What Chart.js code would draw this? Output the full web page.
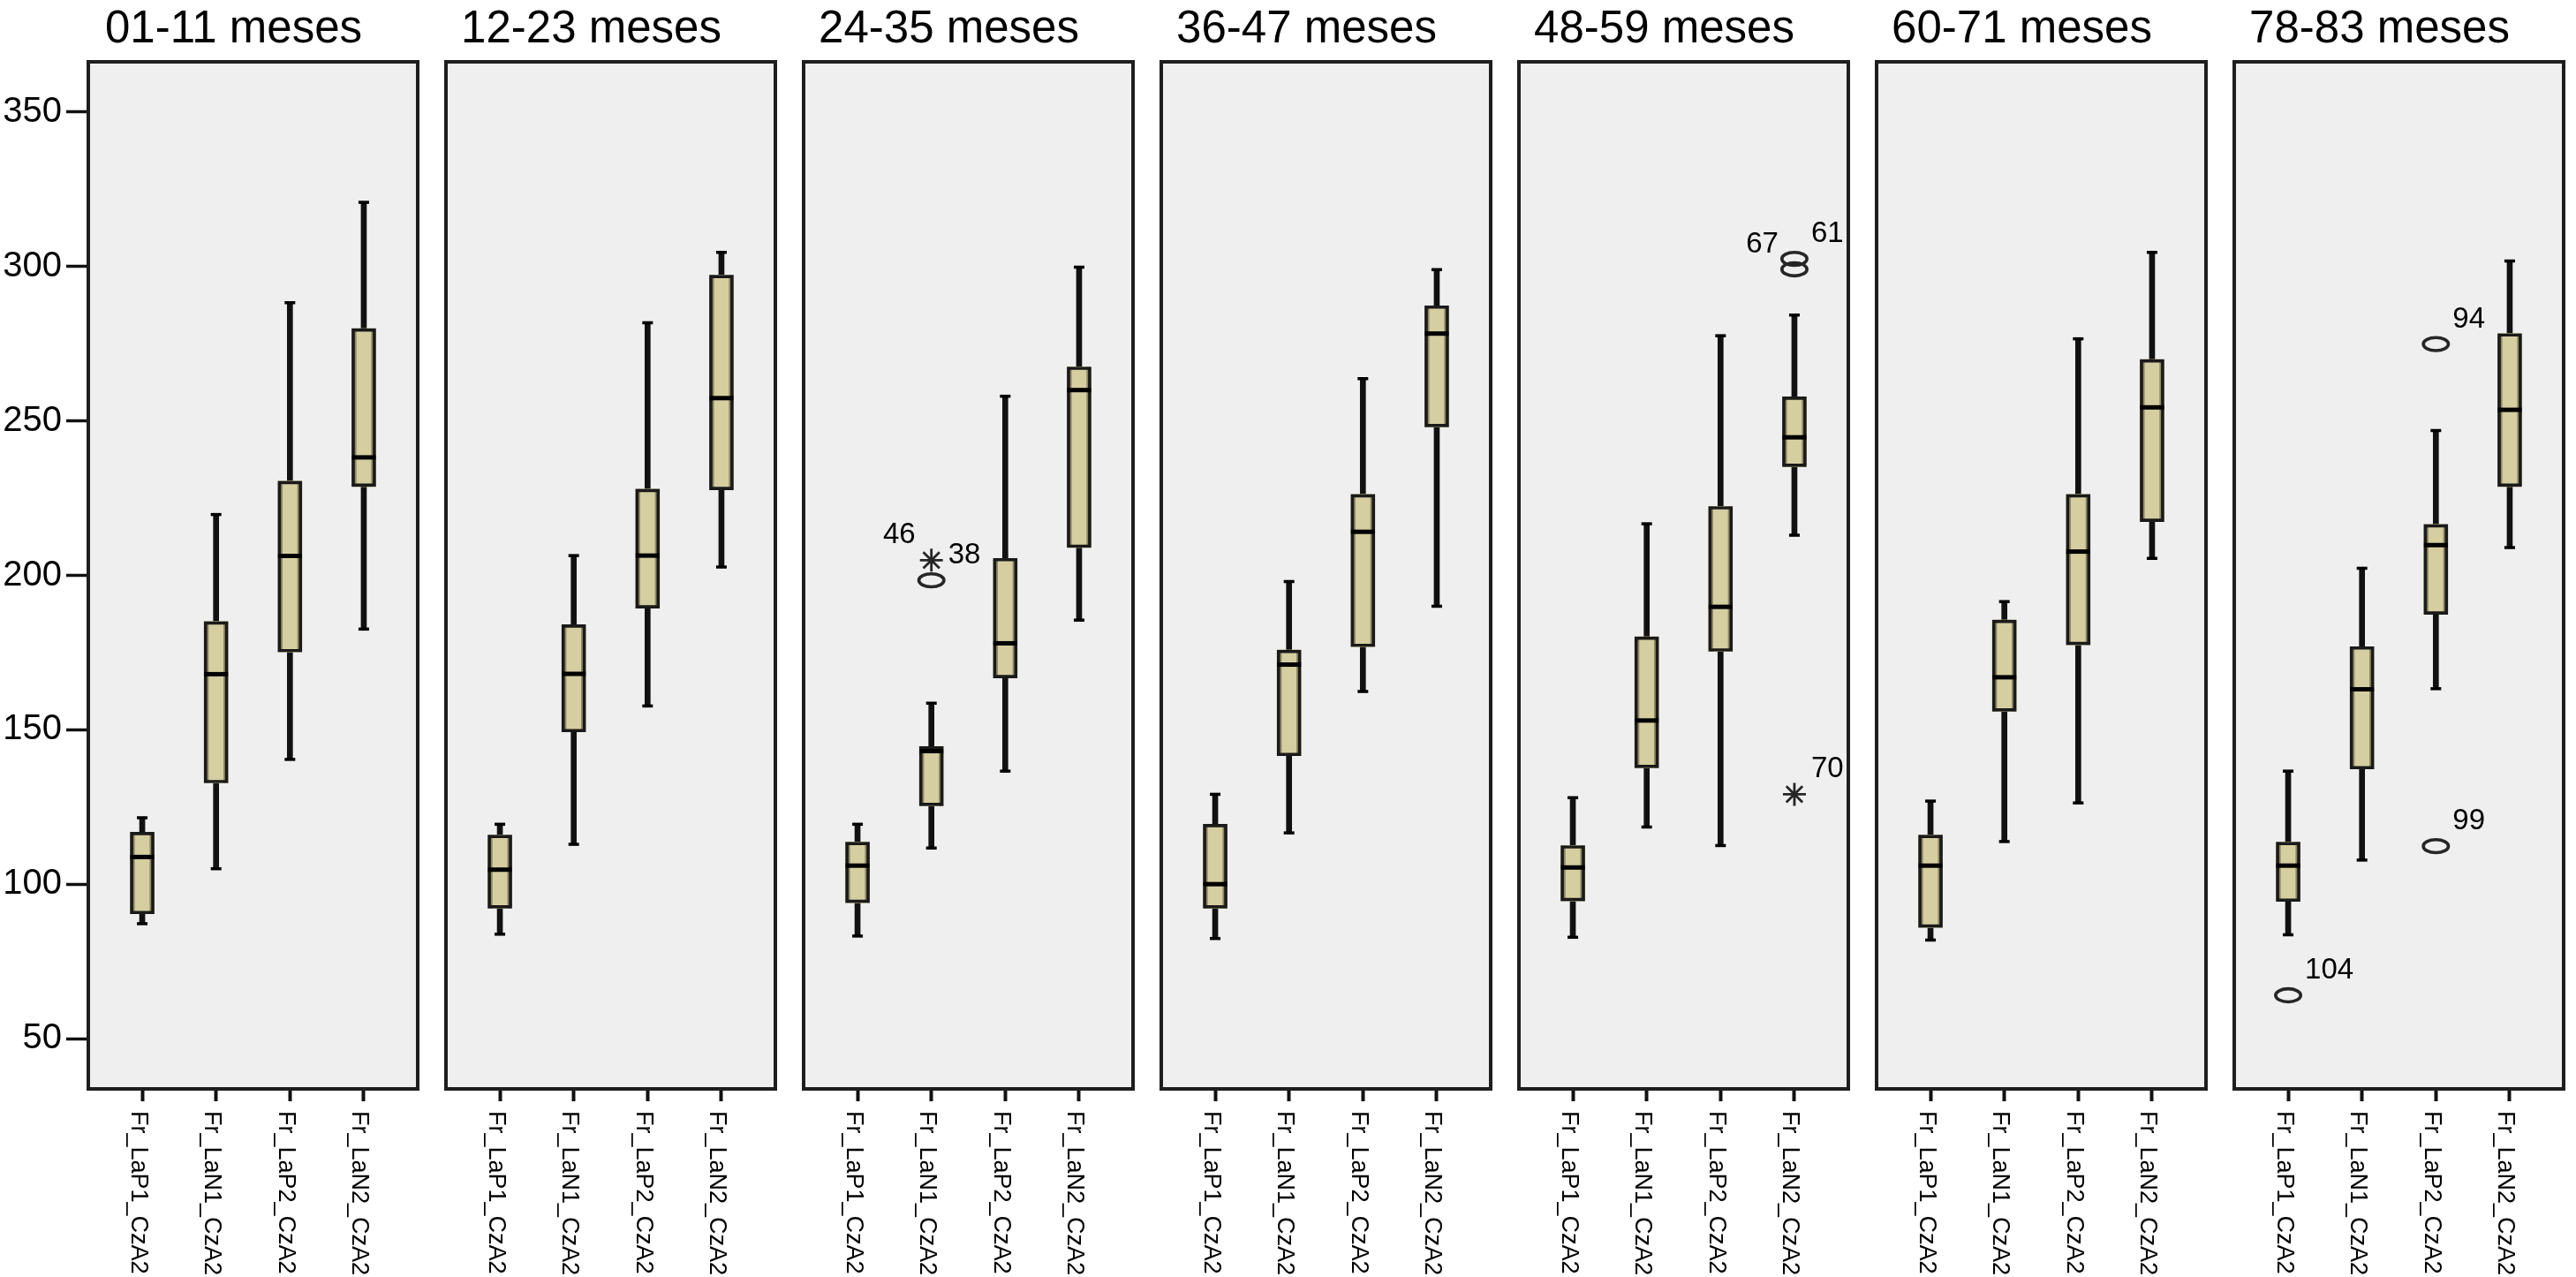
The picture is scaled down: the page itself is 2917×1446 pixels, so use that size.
<!DOCTYPE html>
<html>
<head>
<meta charset="utf-8">
<script src="https://cdn.jsdelivr.net/npm/chart.js@4.4.1/dist/chart.umd.min.js"></script>
<style>
  html, body { margin: 0; padding: 0; background: #fff; width: 2917px; height: 1446px; overflow: hidden; }
  canvas { position: absolute; top: 0; }
</style>
</head>
<body>
<script>
// --- data ---
const panelTitles = ['01-11 meses', '12-23 meses', '24-35 meses', '36-47 meses', '48-59 meses', '60-71 meses', '78-83 meses'];
const categories = ['Fr_LaP1_CzA2', 'Fr_LaN1_CzA2', 'Fr_LaP2_CzA2', 'Fr_LaN2_CzA2'];
const yTicks = [50, 100, 150, 200, 250, 300, 350];

// one row per panel, one value per category
const whiskerLow = [
  [87.2, 105.0, 140.4, 182.6],
  [83.8, 112.9, 157.7, 202.7],
  [83.2, 111.7, 136.6, 185.5],
  [82.4, 116.6, 162.4, 190.0],
  [82.8, 118.5, 112.5, 213.0],
  [81.9, 113.8, 126.3, 205.5],
  [83.6, 107.8, 163.3, 209.0]
];
const q1 = [
  [90.4, 132.8, 175.2, 228.8],
  [92.2, 149.3, 189.4, 227.7],
  [94.0, 125.4, 166.8, 209.0],
  [92.2, 141.6, 176.9, 248.1],
  [94.6, 137.7, 175.4, 235.2],
  [86.0, 156.0, 177.5, 217.4],
  [94.4, 137.3, 187.4, 228.8]
];
const median = [
  [108.8, 168.0, 206.3, 238.2],
  [104.7, 168.1, 206.4, 257.4],
  [106.0, 143.1, 178.0, 260.0],
  [100.0, 171.1, 214.1, 278.3],
  [105.4, 153.0, 189.8, 244.7],
  [106.0, 167.0, 207.7, 254.4],
  [106.0, 163.1, 209.8, 253.6]
];
const q3 = [
  [116.8, 185.0, 230.5, 279.9],
  [115.9, 184.0, 227.9, 297.2],
  [113.6, 144.6, 205.5, 267.5],
  [119.4, 175.8, 226.2, 287.3],
  [112.5, 180.1, 222.3, 257.8],
  [115.9, 185.5, 226.2, 269.9],
  [113.6, 176.9, 216.5, 278.3]
];
const whiskerHigh = [
  [121.5, 219.7, 288.3, 320.8],
  [119.4, 206.4, 281.8, 304.6],
  [119.4, 158.6, 258.0, 299.8],
  [129.1, 198.0, 263.7, 299.0],
  [128.0, 216.7, 277.6, 284.3],
  [126.9, 191.5, 276.6, 304.6],
  [136.6, 202.3, 246.9, 301.8]
];

// outliers: panel index, category index, value, case number, marker (o / *)
const outlierPanel = [2, 2, 4, 4, 4, 6, 6, 6];
const outlierCat = [1, 1, 3, 3, 3, 0, 2, 2];
const outlierValue = [204.9, 198.4, 302.5, 299.1, 129.1, 64.0, 274.9, 112.3];
const outlierCase = ['46', '38', '61', '67', '70', '104', '94', '99'];
const outlierMark = ['*', 'o', 'o', 'o', '*', 'o', 'o', 'o'];

// --- layout / style ---
const FONT = '"Liberation Sans", Arial, Helvetica, sans-serif';
const PANEL_W = 373, FIRST_LEFT = 100, PITCH = 405, TOP = 70, H = 1446, X_AXIS_H = 213;
const Y_MIN = 33.7, Y_MAX = 366.3;
const leftLabelCases = ['46', '67']; // case labels SPSS put on the left side

Chart.defaults.font.family = FONT;
Chart.defaults.color = '#000';

const panelFrame = {
  id: 'panelFrame',
  beforeDraw(chart) {
    const a = chart.chartArea, ctx = chart.ctx;
    ctx.save();
    ctx.fillStyle = '#efefef';
    ctx.fillRect(a.left, a.top, a.right - a.left, a.bottom - a.top);
    ctx.restore();
  },
  afterDatasetsDraw(chart) {
    const a = chart.chartArea, ctx = chart.ctx;
    ctx.save();
    ctx.strokeStyle = '#1e1e1e';
    ctx.lineWidth = 4;
    ctx.strokeRect(a.left, a.top, a.right - a.left, a.bottom - a.top);
    ctx.restore();
  }
};

const panelTitle = {
  id: 'panelTitle',
  afterDraw(chart, args, opts) {
    const a = chart.chartArea, ctx = chart.ctx;
    ctx.save();
    ctx.font = '51px ' + FONT;
    ctx.fillStyle = '#000';
    ctx.textAlign = 'center';
    ctx.textBaseline = 'alphabetic';
    ctx.fillText(opts.text, (a.left + a.right) / 2 - 22, 48);
    ctx.restore();
  }
};

// category labels read top-to-bottom under each tick
const rotatedLabels = {
  id: 'rotatedLabels',
  afterDraw(chart) {
    const xs = chart.scales.x, ctx = chart.ctx;
    ctx.save();
    ctx.font = '27px ' + FONT;
    ctx.fillStyle = '#000';
    ctx.textAlign = 'left';
    ctx.textBaseline = 'middle';
    categories.forEach((label, i) => {
      ctx.save();
      ctx.translate(xs.getPixelForValue(i) - 5, chart.chartArea.bottom + 25);
      ctx.rotate(Math.PI / 2);
      ctx.fillText(label, 0, 0);
      ctx.restore();
    });
    ctx.restore();
  }
};

// SPSS "o" markers are flat ellipses, drawn on the scatter elements' positions, plus case numbers
const outlierMarks = {
  id: 'outlierMarks',
  afterDatasetsDraw(chart) {
    const ctx = chart.ctx;
    ctx.save();
    chart.data.datasets.forEach((ds, di) => {
      if (!ds.outliers) return;
      chart.getDatasetMeta(di).data.forEach((pt, j) => {
        const k = ds.data[j].k;
        if (outlierMark[k] === 'o') {
          // flat ring: circle path squashed vertically, stroked after restoring the transform
          ctx.save();
          ctx.translate(pt.x, pt.y);
          ctx.scale(1, 0.52);
          ctx.beginPath();
          ctx.arc(0, 0, 14.2, 0, Math.PI * 2);
          ctx.restore();
          ctx.strokeStyle = '#262626';
          ctx.lineWidth = 3.6;
          ctx.stroke();
        }
        const name = outlierCase[k];
        const left = leftLabelCases.includes(name);
        ctx.font = '33px ' + FONT;
        ctx.fillStyle = '#000';
        ctx.textBaseline = 'alphabetic';
        ctx.textAlign = left ? 'right' : 'left';
        ctx.fillText(name, pt.x + (left ? -18 : 19), pt.y - 19);
      });
    });
    ctx.restore();
  }
};

function buildPanel(p) {
  const first = p === 0;
  const panelLeft = FIRST_LEFT + p * PITCH;
  const canvas = document.createElement('canvas');
  const cw = first ? panelLeft + PANEL_W + 20 : PANEL_W + 40;
  canvas.width = cw;
  canvas.height = H;
  canvas.style.left = (first ? 0 : panelLeft - 20) + 'px';
  canvas.style.width = cw + 'px';
  canvas.style.height = H + 'px';
  document.body.appendChild(canvas);

  const idx = categories.map((_, i) => i);
  const range = (lo, hi) => idx.map(i => ({ x: i, y: [lo[p][i], hi[p][i]] }));
  const pts = (arr) => idx.map(i => ({ x: i, y: arr[p][i] }));
  const outl = (mark) => outlierPanel
    .map((pp, k) => ({ pp, k }))
    .filter(o => o.pp === p && outlierMark[o.k] === mark)
    .map(o => ({ x: outlierCat[o.k], y: outlierValue[o.k], k: o.k }));

  const datasets = [
    { type: 'bar', data: range(whiskerLow, whiskerHigh), backgroundColor: '#111', barThickness: 6, grouped: false, order: 6 },
    { type: 'bar', data: range(q1, q3), backgroundColor: '#8e8865', barThickness: 27, grouped: false, order: 5 },
    { type: 'bar', data: range(q1, q3), backgroundColor: '#d5cea0', barThickness: 16, grouped: false, order: 4 },
    { type: 'bar', data: range(q1, q3), backgroundColor: 'rgba(0,0,0,0)', borderColor: '#1a1a1a', borderWidth: 3,
      borderSkipped: false, barThickness: 27, grouped: false, order: 3 },
    { type: 'scatter', data: pts(median), pointStyle: 'line', pointRadius: 13.5, borderWidth: 5, borderColor: '#000', order: 2 },
    { type: 'scatter', data: pts(whiskerLow).concat(pts(whiskerHigh)), pointStyle: 'line', pointRadius: 6,
      borderWidth: 3.5, borderColor: '#000', order: 2 },
    { type: 'scatter', data: outl('o'), outliers: true, pointRadius: 0, order: 1 },
    { type: 'scatter', data: outl('*'), outliers: true, pointStyle: 'star', pointRadius: 13,
      borderWidth: 2.8, borderColor: '#262626', order: 1 }
  ];

  new Chart(canvas, {
    type: 'bar',
    data: { datasets },
    options: {
      responsive: false,
      animation: false,
      events: [],
      layout: { padding: { left: first ? 0 : 20, right: 20, top: TOP, bottom: 0 } },
      plugins: {
        legend: { display: false },
        tooltip: { enabled: false },
        panelTitle: { text: panelTitles[p] }
      },
      scales: {
        x: {
          type: 'linear',
          min: -0.73,
          max: 3.73,
          offset: false,
          grid: { offset: false, drawOnChartArea: false, drawTicks: true, tickLength: 14, tickWidth: 4, tickColor: '#111' },
          border: { display: false },
          ticks: { display: false },
          afterBuildTicks: s => { s.ticks = idx.map(v => ({ value: v })); },
          afterFit: s => { s.height = X_AXIS_H; }
        },
        y: {
          display: first,
          min: Y_MIN,
          max: Y_MAX,
          grid: { drawOnChartArea: false, drawTicks: true, tickLength: 25, tickWidth: 3.5, tickColor: '#111' },
          border: { display: false },
          ticks: { font: { size: 40 }, color: '#000', padding: 5 },
          afterBuildTicks: s => { s.ticks = yTicks.map(v => ({ value: v })); },
          afterFit: s => { s.width = first ? FIRST_LEFT : 0; }
        }
      }
    },
    plugins: [panelFrame, panelTitle, rotatedLabels, outlierMarks]
  });
}

panelTitles.forEach((_, p) => buildPanel(p));
</script>
</body>
</html>
